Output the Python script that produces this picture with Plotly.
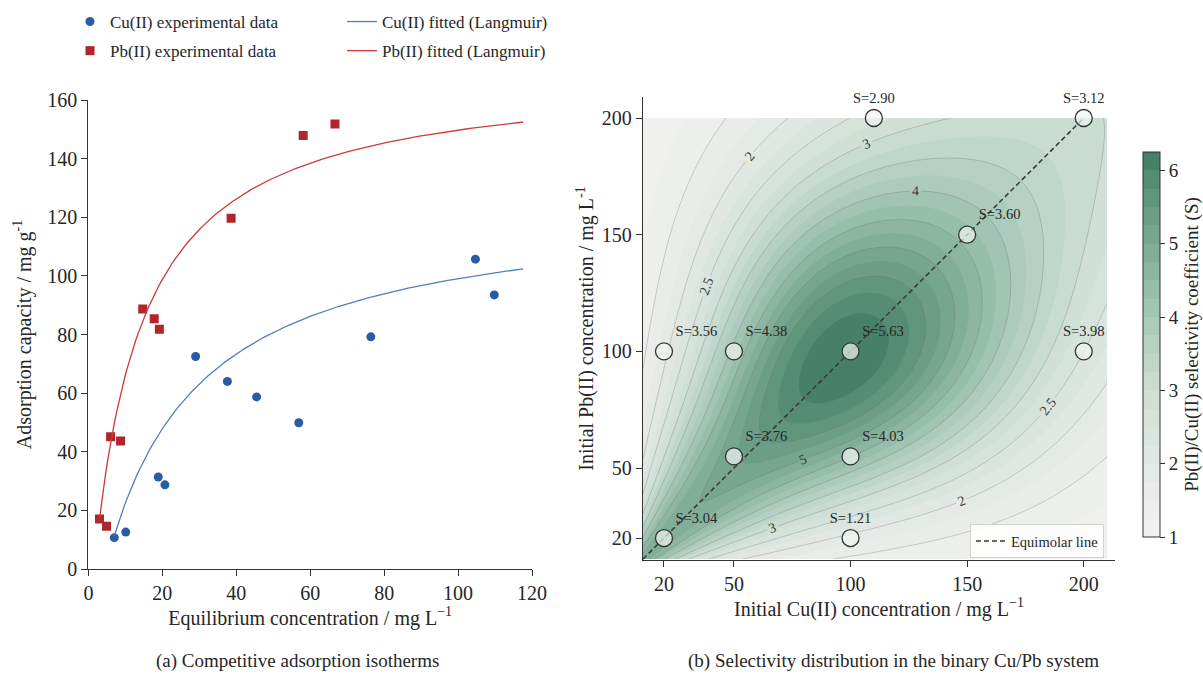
import numpy as np
import plotly.graph_objects as go

FONT = "Liberation Serif, Times New Roman, serif"
INK = "#262626"
AXIS = "#333333"
W, H = 1203, 686

# ---------------- (a) competitive adsorption isotherms ----------------
cu_ce = [7.0, 10.1, 18.9, 20.7, 29.0, 37.6, 45.5, 56.9, 76.4, 104.7, 109.8]
cu_qe = [10.7, 12.6, 31.4, 28.7, 72.5, 64.0, 58.7, 49.9, 79.2, 105.7, 93.5]
pb_ce = [3.0, 4.9, 6.0, 8.7, 14.7, 17.8, 19.2, 38.6, 58.1, 66.7]
pb_qe = [17.1, 14.6, 45.1, 43.7, 88.7, 85.4, 81.8, 119.7, 147.9, 151.8]

# Langmuir parameters: q = qmax*K*(C-c0) / (1 + K*(C-c0))
cu_fit = {"qmax": 125.0, "k": 0.040, "c0": 4.5}
pb_fit = {"qmax": 170.0, "k": 0.075, "c0": 1.5}
fit_c_max = 117.6

x_ticks_a = [0, 20, 40, 60, 80, 100, 120]
y_ticks_a = [0, 20, 40, 60, 80, 100, 120, 140, 160]

# ---------------- (b) selectivity in the binary system ----------------
cu_init = [20, 20, 50, 50, 100, 100, 100, 110, 150, 200, 200]
pb_init = [20, 100, 55, 100, 20, 55, 100, 200, 150, 100, 200]
sel_coef = [3.04, 3.56, 3.76, 4.38, 1.21, 4.03, 5.63, 2.90, 3.60, 3.98, 3.12]
conc_ticks = [20, 50, 100, 150, 200]
cbar_ticks = [1, 2, 3, 4, 5, 6]

# smooth ridge model of S over the concentration plane
grid_cu_lim = (11.0, 210.0)
grid_pb_lim = (11.0, 200.0)
ridge_t0 = 97.0          # position of the maximum along the diagonal
ridge_amp = 5.25         # S - 1 at the maximum
ridge_floor_low = 3.9    # plateau toward the dilute corner
ridge_floor_high = 1.9   # plateau toward concentrated solutions
ridge_spread_low = 38.0
ridge_spread_high = 58.0
ridge_width_max = 90.0
ridge_width_scale = 110.0


def langmuir(c, p):
    u = np.asarray(c) - p["c0"]
    return p["qmax"] * p["k"] * u / (1 + p["k"] * u)


def selectivity_surface(cu, pb):
    t = (cu + pb) / 2
    d = pb - cu
    amp = np.where(
        t <= ridge_t0,
        ridge_floor_low + (ridge_amp - ridge_floor_low) * np.exp(-((t - ridge_t0) / ridge_spread_low) ** 2),
        ridge_floor_high + (ridge_amp - ridge_floor_high) * np.exp(-((t - ridge_t0) / ridge_spread_high) ** 2),
    )
    width = ridge_width_max * np.tanh(t / ridge_width_scale)
    return 1 + amp * np.exp(-d ** 2 / (2 * width ** 2))


def px(x):
    return x / W


def py(y):
    return 1 - y / H


fig = go.Figure()

# ---- panel (a) ----
c_cu = np.linspace(min(cu_ce), fit_c_max, 200)
c_pb = np.linspace(min(pb_ce), fit_c_max, 200)

fig.add_trace(go.Scatter(
    x=cu_ce, y=cu_qe, mode="markers", name="Cu(II) experimental data",
    marker=dict(symbol="circle", size=9, color="#2a5ba6"),
    legend="legend", legendgroup="a1", xaxis="x", yaxis="y"))
fig.add_trace(go.Scatter(
    x=pb_ce, y=pb_qe, mode="markers", name="Pb(II) experimental data",
    marker=dict(symbol="square", size=9, color="#b1262b"),
    legend="legend", legendgroup="a2", xaxis="x", yaxis="y"))
fig.add_trace(go.Scatter(
    x=c_cu, y=langmuir(c_cu, cu_fit), mode="lines", name="Cu(II) fitted (Langmuir)",
    line=dict(color="#4f7fc2", width=1.3),
    legend="legend2", legendgroup="b1", xaxis="x", yaxis="y"))
fig.add_trace(go.Scatter(
    x=c_pb, y=langmuir(c_pb, pb_fit), mode="lines", name="Pb(II) fitted (Langmuir)",
    line=dict(color="#cc3a3a", width=1.3),
    legend="legend2", legendgroup="b2", xaxis="x", yaxis="y"))

# ---- panel (b) ----
gx = np.linspace(*grid_cu_lim, 220)
gy = np.linspace(*grid_pb_lim, 220)
GX, GY = np.meshgrid(gx, gy)
S = selectivity_surface(GX, GY)

s_lo, s_hi = 1.0, 6.25
greens = [(1.0, "#f2f2f0"), (2.0, "#e4e9e5"), (3.0, "#cddfd5"), (4.0, "#a8c8b8"),
          (5.0, "#7baa94"), (6.0, "#4f8870"), (6.25, "#3f785f")]
colorscale = [[(v - s_lo) / (s_hi - s_lo), c] for v, c in greens]

fig.add_trace(go.Contour(
    x=gx, y=gy, z=S, xaxis="x2", yaxis="y2",
    zmin=s_lo, zmax=s_hi, autocontour=False,
    contours=dict(start=s_lo, end=s_hi, size=0.25, coloring="fill", showlines=False),
    line=dict(width=0), colorscale=colorscale, hoverinfo="skip", showlegend=False,
    colorbar=dict(
        x=px(1143), xanchor="left", y=py(344.5), yanchor="middle",
        len=385, lenmode="pixels", thickness=17, thicknessmode="pixels",
        xpad=0, ypad=0,
        outlinecolor=AXIS, outlinewidth=1,
        tickvals=cbar_ticks, ticks="outside", ticklen=5, tickcolor=AXIS,
        tickfont=dict(family=FONT, size=19, color=INK),
        title=dict(text="Pb(II)/Cu(II) selectivity coefficient (S)", side="right",
                   font=dict(family=FONT, size=19, color=INK)),
    ),
))

line_style = dict(color="rgba(110,110,110,0.45)", width=0.7)
label_font = dict(family=FONT, size=14, color="#3a3a3a")
for start, end, size, labelled in [(2.0, 3.0, 0.5, True), (4.0, 5.0, 1.0, True),
                                   (1.5, 1.5, 1.0, False), (3.5, 5.5, 1.0, False)]:
    fig.add_trace(go.Contour(
        x=gx, y=gy, z=S, xaxis="x2", yaxis="y2", autocontour=False,
        contours=dict(start=start, end=end, size=size, coloring="none",
                      showlabels=labelled, labelfont=label_font),
        line=line_style, showscale=False, hoverinfo="skip", showlegend=False))

eq_end = max(cu_init)
fig.add_trace(go.Scatter(
    x=[grid_cu_lim[0], eq_end], y=[grid_cu_lim[0], eq_end], mode="lines",
    name="Equimolar line", line=dict(color="#3a3a3a", width=1.6, dash="5px,3px"),
    legend="legend3", xaxis="x2", yaxis="y2"))

positions = ["top right", "top right", "top right", "top right", "top center", "top right",
             "top right", "top center", "top right", "top center", "top center"]
fig.add_trace(go.Scatter(
    x=cu_init, y=pb_init, mode="markers+text", xaxis="x2", yaxis="y2",
    marker=dict(size=17, color="rgba(240,245,242,0.7)", line=dict(color="#333333", width=1.3)),
    text=[f"S={s:.2f}" for s in sel_coef], textposition=positions,
    textfont=dict(family=FONT, size=14.5, color=INK),
    showlegend=False, hoverinfo="skip", cliponaxis=False))

axis_common = dict(
    showline=True, linecolor=AXIS, linewidth=1.3, showgrid=False, zeroline=False,
    ticks="outside", ticklen=6, tickwidth=1.2, tickcolor=AXIS,
    tickfont=dict(family=FONT, size=20, color=INK), mirror=False, automargin=False,
)

fig.update_layout(
    width=W, height=H, margin=dict(l=0, r=0, t=0, b=0, autoexpand=False),
    paper_bgcolor="white", plot_bgcolor="white",
    font=dict(family=FONT, color=INK),
    xaxis=dict(axis_common, domain=[px(88.4), px(532)], range=[0, 120], tickvals=x_ticks_a,
               anchor="y",
               title=dict(text="Equilibrium concentration / mg L<sup>\u22121</sup>",
                          font=dict(family=FONT, size=20, color=INK), standoff=6)),
    yaxis=dict(axis_common, domain=[py(569), py(100)], range=[0, 160], tickvals=y_ticks_a,
               anchor="x",
               title=dict(text="Adsorption capacity / mg g<sup>-1</sup>",
                          font=dict(family=FONT, size=20, color=INK), standoff=10)),
    xaxis2=dict(axis_common, domain=[px(643), px(1115)], range=[11, 213.4], tickvals=conc_ticks,
                anchor="y2",
                title=dict(text="Initial Cu(II) concentration / mg L<sup>\u22121</sup>",
                           font=dict(family=FONT, size=20, color=INK), standoff=4)),
    yaxis2=dict(axis_common, domain=[py(560), py(97)], range=[10.6, 209], tickvals=conc_ticks,
                anchor="x2",
                title=dict(text="Initial Pb(II) concentration / mg L<sup>-1</sup>",
                           font=dict(family=FONT, size=20, color=INK), standoff=2)),
    legend=dict(x=px(70), y=py(4), xanchor="left", yanchor="top", bgcolor="rgba(0,0,0,0)",
                font=dict(family=FONT, size=17, color=INK), tracegroupgap=4),
    legend2=dict(x=px(342), y=py(4), xanchor="left", yanchor="top", bgcolor="rgba(0,0,0,0)",
                 font=dict(family=FONT, size=17, color=INK), tracegroupgap=4),
    legend3=dict(x=px(970), y=py(524), xanchor="left", yanchor="top",
                 bgcolor="rgba(255,255,255,0.85)", bordercolor="#d2d2d2", borderwidth=1,
                 font=dict(family=FONT, size=14.5, color=INK)),
    annotations=[
        dict(text="(a) Competitive adsorption isotherms", x=px(297), y=py(661),
             xref="paper", yref="paper", xanchor="center", yanchor="middle", showarrow=False,
             font=dict(family=FONT, size=19, color=INK)),
        dict(text="(b) Selectivity distribution in the binary Cu/Pb system", x=px(893), y=py(661),
             xref="paper", yref="paper", xanchor="center", yanchor="middle", showarrow=False,
             font=dict(family=FONT, size=19, color=INK)),
    ],
)

fig.write_html("out.html")
